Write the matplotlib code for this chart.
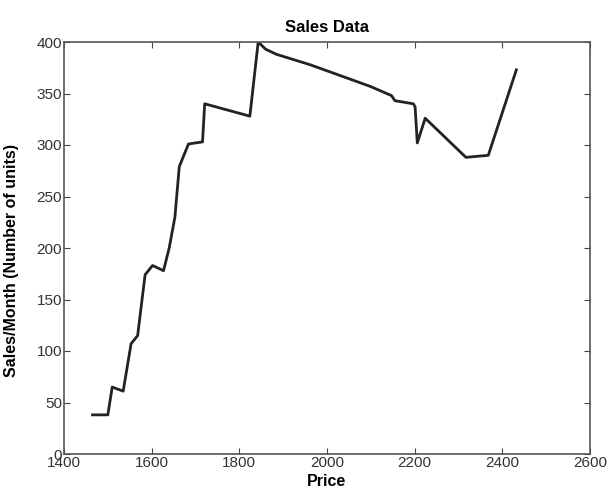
import matplotlib
matplotlib.use("Agg")
import matplotlib.pyplot as plt

price = [1465, 1500, 1510, 1535, 1553, 1568, 1585, 1602, 1627, 1640, 1653, 1663,
         1684, 1716, 1721, 1824, 1843, 1860, 1885, 1961, 2098, 2147, 2155, 2197,
         2201, 2206, 2224, 2317, 2368, 2432]
sales = [38, 38, 65, 61, 107, 115, 174, 183, 178, 200, 230, 279,
         301, 303, 340, 328, 400, 393, 388, 378, 357, 348, 343, 340,
         337, 302, 326, 288, 290, 373]

xticks = [1400, 1600, 1800, 2000, 2200, 2400, 2600]
yticks = [0, 50, 100, 150, 200, 250, 300, 350, 400]

plt.rcParams['font.family'] = ['Liberation Sans', 'DejaVu Sans']

fig = plt.figure(figsize=(6.07, 4.95), dpi=100)
ax = fig.add_axes([64/607, 1 - 454/495, (590-64)/607, (454-42)/495])
ax.plot(price, sales, color='#222222', lw=2.0)
ax.set_xlim(1400, 2600)
ax.set_ylim(0, 400)
ax.set_xticks(xticks)
ax.set_yticks(yticks)
ax.tick_params(direction='in', top=True, right=True, length=4, labelsize=11,
               color='#444444', pad=1.5, labelcolor='#333333')
for s in ax.spines.values():
    s.set_color('#555555')
    s.set_linewidth(1.2)
ax.set_title('Sales Data', fontsize=12, fontweight='bold', pad=7)
ax.set_xlabel('Price', fontsize=11.5, fontweight='bold', labelpad=3)
ax.set_ylabel('Sales/Month (Number of units)', fontsize=11.5, fontweight='bold')
ax.yaxis.set_label_coords(-0.085, 0.47)
fig.savefig('out.png', dpi=100)
